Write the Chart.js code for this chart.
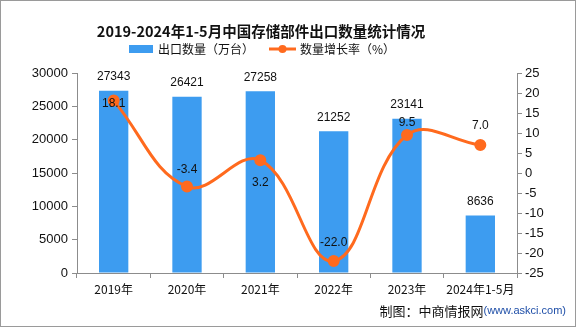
<!DOCTYPE html>
<html>
<head>
<meta charset="utf-8">
<script src="https://cdn.jsdelivr.net/npm/chart.js@4/dist/chart.umd.min.js"></script>
<style>
  html, body { margin: 0; padding: 0; background: #fff; }
  #wrap { width: 576px; height: 327px; position: relative; }
</style>
</head>
<body>
<div id="wrap"><canvas id="c" width="576" height="327"></canvas></div>
<script>
// Export volume of storage components, Jan–May, 2019–2024
const categories = ['2019年', '2020年', '2021年', '2022年', '2023年', '2024年1-5月'];
const exportVolume = [27343, 26421, 27258, 21252, 23141, 8636];   // 万台
const growthRate = [18.1, -3.4, 3.2, -22.0, 9.5, 7.0];          // %
const leftTicks = [0, 5000, 10000, 15000, 20000, 25000, 30000];
const rightTicks = [-25, -20, -15, -10, -5, 0, 5, 10, 15, 20, 25];

const titleText = '2019-2024年1-5月中国存储部件出口数量统计情况';
const barLegend = '出口数量（万台）';
const lineLegend = '数量增长率（%）';

const BAR_COLOR = '#3d9cf0';
const LINE_COLOR = '#ff6a1e';
const AXIS_COLOR = '#8c8c8c';
const NUM_FONT = '"Liberation Sans", Arial, sans-serif';
const CJK_FONT = '"Noto Sans CJK SC", "Noto Sans", sans-serif';

// vertical offset of each growth label relative to its point (px, + is down)
const rateLabelShift = [3, -17, 22, -18, -12, -19];

const decorations = {
  id: 'decorations',
  afterDatasetsDraw(chart) {
    const ctx = chart.ctx;
    ctx.save();

    // bar value labels
    const barMeta = chart.getDatasetMeta(0);
    ctx.font = '12px ' + NUM_FONT;
    ctx.fillStyle = '#111';
    ctx.textAlign = 'center';
    ctx.textBaseline = 'middle';
    barMeta.data.forEach((bar, i) => {
      ctx.fillText(String(exportVolume[i]), bar.x, bar.y - 14);
    });

    // growth rate labels
    const lineMeta = chart.getDatasetMeta(1);
    lineMeta.data.forEach((pt, i) => {
      ctx.fillText(growthRate[i].toFixed(1), pt.x, pt.y + rateLabelShift[i]);
    });
    ctx.restore();
  },
  afterDraw(chart) {
    const ctx = chart.ctx;
    ctx.save();

    // title
    ctx.fillStyle = '#111';
    ctx.font = 'bold 14.5px ' + CJK_FONT;
    ctx.textAlign = 'center';
    ctx.textBaseline = 'middle';
    ctx.fillText(titleText, 261, 31);

    // legend
    ctx.font = '12px ' + CJK_FONT;
    ctx.textAlign = 'left';
    ctx.fillStyle = BAR_COLOR;
    ctx.fillRect(129, 45, 24, 8);
    ctx.fillStyle = '#111';
    ctx.fillText(barLegend, 158, 49);

    ctx.strokeStyle = LINE_COLOR;
    ctx.lineWidth = 3;
    ctx.beginPath();
    ctx.moveTo(269, 49);
    ctx.lineTo(296, 49);
    ctx.stroke();
    ctx.fillStyle = LINE_COLOR;
    ctx.beginPath();
    ctx.arc(282.5, 49, 4, 0, Math.PI * 2);
    ctx.fill();
    ctx.fillStyle = '#111';
    ctx.fillText(lineLegend, 300, 49);

    // source note
    ctx.textAlign = 'right';
    ctx.font = '11px ' + NUM_FONT;
    ctx.fillStyle = '#1f4fa8';
    const src = '(www.askci.com)';
    const srcW = ctx.measureText(src).width;
    ctx.fillText(src, 566, 311);
    ctx.font = '13px ' + CJK_FONT;
    ctx.fillStyle = '#111';
    ctx.fillText('制图：中商情报网', 566 - srcW, 311);

    // outer frame
    ctx.strokeStyle = '#9a9a9a';
    ctx.lineWidth = 1;
    ctx.strokeRect(0.5, 0.5, 575, 326);
    ctx.restore();
  }
};

new Chart(document.getElementById('c'), {
  data: {
    labels: categories,
    datasets: [
      {
        type: 'bar',
        label: barLegend,
        data: exportVolume,
        backgroundColor: BAR_COLOR,
        yAxisID: 'y',
        barPercentage: 0.4,
        categoryPercentage: 1.0,
        order: 2
      },
      {
        type: 'line',
        label: lineLegend,
        data: growthRate,
        borderColor: LINE_COLOR,
        backgroundColor: LINE_COLOR,
        borderWidth: 3,
        pointRadius: 4.5,
        pointHoverRadius: 4.5,
        tension: 0.4,
        yAxisID: 'y1',
        order: 1
      }
    ]
  },
  options: {
    responsive: false,
    animation: false,
    layout: { padding: { top: 73, left: 0, right: 0, bottom: 0 } },
    plugins: {
      legend: { display: false },
      title: { display: false },
      tooltip: { enabled: false }
    },
    scales: {
      x: {
        offset: true,
        afterFit(s) { s.height = 54; },
        border: { color: AXIS_COLOR, width: 1 },
        grid: { display: true, offset: true, drawOnChartArea: false, drawTicks: true, tickLength: 5, color: AXIS_COLOR },
        ticks: { color: '#111', font: { family: CJK_FONT, size: 12 }, padding: 4, maxRotation: 0, autoSkip: false }
      },
      y: {
        position: 'left',
        min: 0, max: 30000,
        afterFit(s) { s.width = 77; },
        afterBuildTicks(s) { s.ticks = leftTicks.map(v => ({ value: v })); },
        border: { color: AXIS_COLOR, width: 1 },
        grid: { display: true, drawOnChartArea: false, drawTicks: true, tickLength: 5, color: AXIS_COLOR },
        ticks: { color: '#111', font: { family: NUM_FONT, size: 13 }, padding: 4, callback: v => String(v) }
      },
      y1: {
        position: 'right',
        min: -25, max: 25,
        afterFit(s) { s.width = 59; },
        afterBuildTicks(s) { s.ticks = rightTicks.map(v => ({ value: v })); },
        border: { color: AXIS_COLOR, width: 1 },
        grid: { display: true, drawOnChartArea: false, drawTicks: true, tickLength: 5, color: AXIS_COLOR },
        ticks: { color: '#111', font: { family: NUM_FONT, size: 13 }, padding: 3, callback: v => String(v) }
      }
    }
  },
  plugins: [decorations]
});
</script>
</body>
</html>
